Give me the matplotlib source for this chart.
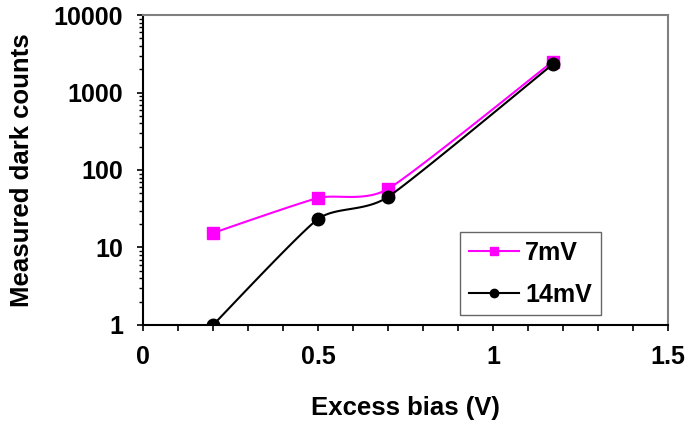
import numpy as np
import matplotlib
matplotlib.use("Agg")
import matplotlib.pyplot as plt
from matplotlib.ticker import LogLocator, FixedLocator, NullFormatter, MultipleLocator

plt.rcParams['font.family'] = ['Liberation Sans', 'DejaVu Sans']
plt.rcParams['font.weight'] = 'bold'

bias = [0.2, 0.5, 0.7, 1.17]
counts_7mv = [15.4, 43.5, 57, 2500]
counts_14mv = [1.0, 23.3, 45, 2300]


def smooth(x, y, n=30, k=10.0):
    # Bezier smoothing through the points, done in (x, log y)
    p = np.column_stack([x, np.log10(y)])
    out = [p[0]]
    for i in range(len(p) - 1):
        p0 = p[i - 1] if i > 0 else p[i]
        p1, p2 = p[i], p[i + 1]
        p3 = p[i + 2] if i + 2 < len(p) else p[i + 1]
        c1 = p1 + (p2 - p0) / k
        c2 = p2 - (p3 - p1) / k
        t = np.linspace(0, 1, n)[1:, None]
        seg = ((1 - t) ** 3 * p1 + 3 * (1 - t) ** 2 * t * c1
               + 3 * (1 - t) * t ** 2 * c2 + t ** 3 * p2)
        out.extend(seg)
    out = np.array(out)
    return out[:, 0], 10 ** out[:, 1]


fig = plt.figure(figsize=(6.86, 4.25), dpi=100)
ax = fig.add_axes([0.2085, 0.2353, 0.9738 - 0.2085, 0.9647 - 0.2353])

sx, sy = smooth(bias, counts_7mv)
ax.plot(sx, sy, color='#FF00FF', lw=1.5)
ax.plot(bias, counts_7mv, ls='none', marker='s', ms=8.5, color='#FF00FF')
sx, sy = smooth(bias, counts_14mv)
ax.plot(sx, sy, color='black', lw=1.5)
ax.plot(bias, counts_14mv, ls='none', marker='o', ms=9, color='black')

ax.set_yscale('log')
ax.set_xlim(0, 1.5)
ax.set_ylim(1, 10000)
ax.xaxis.set_major_locator(FixedLocator([0, 0.5, 1, 1.5]))
ax.xaxis.set_minor_locator(MultipleLocator(0.1))
ax.set_xticklabels(['0', '0.5', '1', '1.5'])
ax.yaxis.set_major_locator(FixedLocator([1, 10, 100, 1000, 10000]))
ax.set_yticklabels(['1', '10', '100', '1000', '10000'])
ax.yaxis.set_minor_locator(LogLocator(base=10, subs=np.arange(2, 10)))
ax.yaxis.set_minor_formatter(NullFormatter())

ax.tick_params(axis='both', which='major', direction='out', length=4.5, width=1.2,
               labelsize=18, colors='black')
ax.tick_params(axis='x', which='major', pad=10)
ax.tick_params(axis='y', which='major', pad=10)
ax.tick_params(axis='x', which='minor', direction='out', length=4, width=1.2)
ax.tick_params(axis='y', which='minor', direction='out', length=3, width=1.0)
for lbl in ax.get_xticklabels() + ax.get_yticklabels():
    lbl.set_fontweight('bold')

ax.spines['left'].set_linewidth(1.5)
ax.spines['bottom'].set_linewidth(1.5)
ax.spines['top'].set_color('#808080')
ax.spines['right'].set_color('#808080')
ax.spines['top'].set_linewidth(1.5)
ax.spines['right'].set_linewidth(1.5)

ax.set_xlabel('Excess bias (V)', fontsize=18.5, fontweight='bold', labelpad=19)
ax.set_ylabel('Measured dark counts', fontsize=18.5, fontweight='bold', labelpad=14)

h1 = ax.plot([], [], color='#FF00FF', lw=1.5, marker='s', ms=6)[0]
h2 = ax.plot([], [], color='black', lw=1.5, marker='o', ms=6)[0]
leg = ax.legend([h1, h2], ['7mV', '14mV'], loc='upper left',
                bbox_to_anchor=(0.604, 0.30), fontsize=18, frameon=True,
                fancybox=False, edgecolor='#404040', handlelength=2.0,
                borderpad=0.35, labelspacing=0.72, handletextpad=0.25,
                borderaxespad=0)
leg.get_frame().set_linewidth(1.0)
for t in leg.get_texts():
    t.set_fontweight('bold')

fig.savefig('out.png', dpi=100)
